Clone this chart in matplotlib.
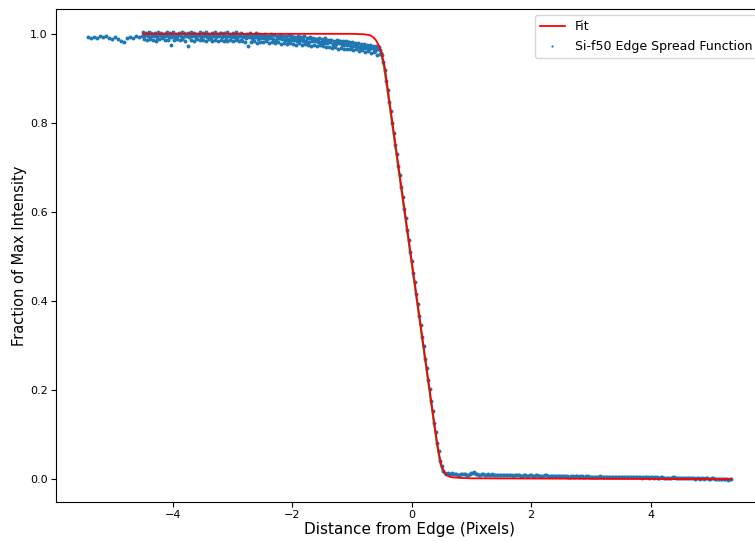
import matplotlib
matplotlib.use("Agg")
import matplotlib.pyplot as plt
import numpy as np

# measured edge spread function, Si-f50
# sparse left end
left_x0, left_dx = -5.42, 0.05
left_y = [0.992, 0.990, 0.993, 0.991, 0.995, 0.993, 0.996, 0.991, 0.989, 0.992,
          0.988, 0.984, 0.982, 0.990, 0.993, 0.991, 0.995, 0.993, 0.996]

# plateau, several passes over the same region
plat_x0, plat_dx = -4.50, 0.05
plat_upper = [1.003, 1.001, 1.004, 1.000, 1.002, 1.005, 1.001, 0.999, 1.003, 1.002,
              1.004, 1.000, 1.002, 1.003, 0.999, 1.001, 1.004, 1.002, 1.000, 1.003,
              1.001, 1.003, 0.999, 1.002, 1.004, 1.000, 1.002, 1.001, 1.003, 0.999,
              1.001, 1.003, 0.999, 1.002, 0.998, 1.000, 1.002, 0.997, 1.001, 0.999,
              0.998, 1.000, 0.996, 0.999, 0.997, 0.995, 0.998, 0.996, 0.994, 0.997,
              0.995, 0.993, 0.996, 0.992, 0.994, 0.991, 0.993, 0.990, 0.989, 0.991,
              0.988, 0.990, 0.986, 0.987, 0.985, 0.987, 0.984, 0.983, 0.985, 0.982,
              0.981, 0.979, 0.980, 0.977, 0.978, 0.975, 0.976, 0.973, 0.972, 0.970]
plat_scatter = [0.999, 0.994, 1.001, 0.997, 0.990, 1.000, 0.996, 1.002, 0.993, 0.998,
                0.991, 0.999, 0.995, 1.001, 0.997, 0.994, 1.000, 0.990, 0.998, 0.996,
                1.000, 0.996, 0.991, 0.999, 0.997, 1.001, 0.995, 0.989, 0.998, 0.996,
                0.997, 0.995, 0.987, 0.998, 0.994, 0.996, 0.986, 0.995, 0.993, 0.996,
                0.994, 0.992, 0.995, 0.984, 0.993, 0.991, 0.994, 0.990, 0.983, 0.992,
                0.991, 0.989, 0.992, 0.988, 0.979, 0.990, 0.987, 0.989, 0.985, 0.977,
                0.985, 0.983, 0.986, 0.976, 0.982, 0.984, 0.980, 0.978, 0.981, 0.970,
                0.977, 0.975, 0.968, 0.974, 0.972, 0.965, 0.971, 0.962, 0.968, 0.957]
plat_mid = [0.995, 0.997, 0.993, 0.996, 0.994, 0.997, 0.992, 0.995, 0.996, 0.993,
            0.996, 0.994, 0.997, 0.993, 0.995, 0.992, 0.996, 0.994, 0.997, 0.993,
            0.995, 0.993, 0.996, 0.994, 0.992, 0.996, 0.993, 0.995, 0.994, 0.992,
            0.993, 0.991, 0.994, 0.992, 0.990, 0.993, 0.991, 0.992, 0.989, 0.991,
            0.990, 0.988, 0.991, 0.989, 0.987, 0.990, 0.988, 0.986, 0.989, 0.987,
            0.987, 0.985, 0.986, 0.984, 0.985, 0.982, 0.984, 0.983, 0.981, 0.982,
            0.980, 0.979, 0.981, 0.978, 0.977, 0.979, 0.976, 0.975, 0.976, 0.974,
            0.972, 0.973, 0.970, 0.971, 0.969, 0.968, 0.969, 0.966, 0.965, 0.963]
plat_lower = [0.988, 0.986, 0.989, 0.987, 0.985, 0.988, 0.990, 0.986, 0.987, 0.975,
              0.987, 0.989, 0.986, 0.988, 0.984, 0.973, 0.987, 0.985, 0.988, 0.986,
              0.987, 0.985, 0.988, 0.984, 0.986, 0.983, 0.987, 0.985, 0.984, 0.986,
              0.984, 0.986, 0.983, 0.985, 0.982, 0.972, 0.981, 0.983, 0.980, 0.982,
              0.981, 0.983, 0.980, 0.982, 0.979, 0.981, 0.978, 0.980, 0.977, 0.979,
              0.978, 0.976, 0.979, 0.975, 0.977, 0.974, 0.973, 0.975, 0.972, 0.974,
              0.972, 0.970, 0.971, 0.969, 0.970, 0.967, 0.968, 0.966, 0.967, 0.965,
              0.964, 0.965, 0.962, 0.963, 0.960, 0.961, 0.958, 0.959, 0.953, 0.955]

# the edge itself
edge_x0, edge_dx = -0.50, 0.025
edge_y = [0.952, 0.936, 0.919, 0.894, 0.873, 0.847, 0.826, 0.799, 0.778, 0.751,
          0.730, 0.703, 0.682, 0.655, 0.634, 0.607, 0.586, 0.559, 0.538, 0.511,
          0.490, 0.463, 0.442, 0.415, 0.394, 0.367, 0.346, 0.319, 0.298, 0.271,
          0.250, 0.223, 0.202, 0.175, 0.154, 0.127, 0.106, 0.081, 0.063, 0.041,
          0.029, 0.018, 0.015, 0.012]

# dark side tail, two passes
tail_x0, tail_dx = 0.60, 0.05
tail_y = [0.013, 0.012, 0.011, 0.012, 0.010, 0.011, 0.012, 0.010, 0.013, 0.016,
          0.011, 0.010, 0.011, 0.009, 0.010, 0.011, 0.009, 0.010, 0.009, 0.010,
          0.009, 0.010, 0.008, 0.009, 0.010, 0.008, 0.009, 0.008, 0.009, 0.008,
          0.009, 0.007, 0.008, 0.009, 0.007, 0.008, 0.007, 0.008, 0.007, 0.008,
          0.007, 0.006, 0.007, 0.008, 0.006, 0.007, 0.006, 0.007, 0.006, 0.005,
          0.006, 0.007, 0.005, 0.006, 0.005, 0.006, 0.005, 0.004, 0.005, 0.006,
          0.005, 0.004, 0.005, 0.004, 0.005, 0.003, 0.004, 0.005, 0.004, 0.003,
          0.004, 0.003, 0.004, 0.003, 0.002, 0.003, 0.004, 0.002, 0.003, 0.002,
          0.003, 0.002, 0.003, 0.001, 0.002, 0.002, 0.001, 0.002, 0.001, 0.002,
          0.001, 0.000, 0.001, 0.000, -0.001, 0.000]
tail_y2 = [0.012, 0.013, 0.011, 0.010, 0.012, 0.011, 0.010, 0.012, 0.014, 0.012,
           0.010, 0.011, 0.010, 0.011, 0.009, 0.010, 0.010, 0.009, 0.010, 0.009,
           0.010, 0.009, 0.009, 0.010, 0.008, 0.009, 0.008, 0.009, 0.008, 0.009,
           0.008, 0.008, 0.009, 0.007, 0.008, 0.007, 0.008, 0.007, 0.008, 0.007,
           0.006, 0.007, 0.006, 0.007, 0.007, 0.006, 0.007, 0.006, 0.005, 0.006,
           0.005, 0.006, 0.006, 0.005, 0.006, 0.005, 0.004, 0.005, 0.006, 0.005,
           0.004, 0.005, 0.004, 0.005, 0.004, 0.004, 0.005, 0.003, 0.004, 0.004,
           0.003, 0.004, 0.003, 0.002, 0.003, 0.004, 0.003, 0.003, 0.002, 0.003,
           0.002, 0.003, 0.002, 0.002, 0.001, 0.002, 0.002, 0.001, 0.002, 0.001,
           0.000, 0.001, 0.000, 0.001, 0.000]

# fitted ESF
fit_x = [-4.5, -1.0, -0.8, -0.7, -0.65, -0.6, -0.55, -0.5, -0.45, -0.4,
         0.4, 0.45, 0.5, 0.55, 0.6, 0.65, 0.7, 0.8, 1.0, 3.0, 5.35]
fit_y = [1.0, 1.0, 0.999, 0.997, 0.993, 0.986, 0.974, 0.955, 0.925, 0.876,
         0.106, 0.062, 0.030, 0.015, 0.008, 0.005, 0.004, 0.003, 0.002, 0.001, 0.0]


def positions(x0, dx, vals):
    return x0 + dx * np.arange(len(vals))


xs = np.concatenate([positions(left_x0, left_dx, left_y),
                     positions(plat_x0, plat_dx, plat_upper),
                     positions(plat_x0 + 0.037, plat_dx, plat_scatter),
                     positions(plat_x0 + 0.025, plat_dx, plat_mid),
                     positions(plat_x0 + 0.012, plat_dx, plat_lower),
                     positions(edge_x0, edge_dx, edge_y),
                     positions(tail_x0, tail_dx, tail_y),
                     positions(tail_x0 + 0.025, tail_dx, tail_y2)])
ys = np.concatenate([left_y, plat_upper, plat_scatter, plat_mid, plat_lower,
                     edge_y, tail_y, tail_y2])

fig = plt.figure(figsize=(7.55, 5.41), dpi=100)
ax = fig.add_axes([0.074, 0.072, 0.937, 0.911])

ex = positions(edge_x0, edge_dx, edge_y)
ax.plot(ex - 0.008, edge_y, color='tab:green', linewidth=1.2, zorder=1)
ax.plot(fit_x, fit_y, color='red', linewidth=1.3, zorder=3, label='Fit')
ax.scatter(xs, ys, s=8, linewidths=0, color='tab:blue', zorder=2,
           label='Si-f50 Edge Spread Function')

ax.set_xticks([-4, -2, 0, 2, 4])
ax.set_yticks([0.0, 0.2, 0.4, 0.6, 0.8, 1.0])
ax.tick_params(labelsize=8, pad=2.5)
ax.set_xlabel('Distance from Edge (Pixels)', fontsize=11, labelpad=1)
ax.set_ylabel('Fraction of Max Intensity', fontsize=10.5, labelpad=2)
ax.legend(loc='upper right', fontsize=9, markerscale=0.55)

fig.savefig('out.png', dpi=100)
